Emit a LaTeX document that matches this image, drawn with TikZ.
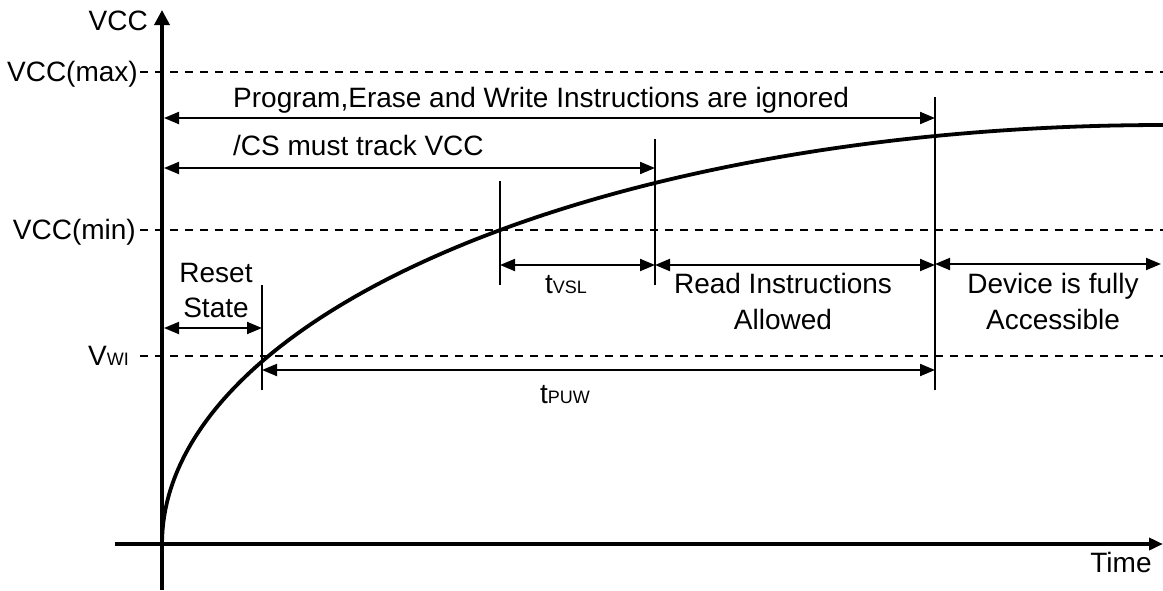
\documentclass[tikz,border=0pt]{standalone}
\usepackage{fontspec}
\setmainfont{Liberation Sans}
\usetikzlibrary{arrows.meta}
\begin{document}
\begin{tikzpicture}[x=1pt,y=-1pt,
  every node/.style={font=\fontsize{28}{33}\selectfont, inner sep=0pt},
  axis/.style={line width=3.5pt},
  curveline/.style={line width=3.8pt, line join=round},
  guide/.style={line width=2pt, dash pattern=on 8pt off 7pt},
  tickline/.style={line width=2pt},
  dimboth/.style={line width=2pt, {Triangle[length=15pt,width=12pt]}-{Triangle[length=15pt,width=12pt]}},
]
\newcommand{\sm}[1]{{\fontsize{18}{20}\selectfont #1}}
\useasboundingbox (0,0) rectangle (1163,590);

% axes
\coordinate (yb) at (162,590); \coordinate (yt) at (162,10);
\coordinate (xl) at (115,544); \coordinate (xr) at (1163,544);
\draw[axis, -{Triangle[length=15pt,width=15pt]}] (yb) -- (yt);
\draw[axis, -{Triangle[length=14pt,width=12pt]}] (xl) -- (xr);

% level labels and dashed levels
\node[anchor=east] (vcc) at (148,21) {VCC};
\node[anchor=base east] (vmax) at (138,81.5) {VCC(max)};
\node[anchor=base east] (vmin) at (136,239.5) {VCC(min)};
\node[anchor=base east] (vwi) at (129,365) {V\sm{WI}};
\coordinate (dmax1) at (140,72);  \coordinate (dmax2) at (1163,72);
\coordinate (dmin1) at (140,230); \coordinate (dmin2) at (1163,230);
\coordinate (dwi1) at (140,356);  \coordinate (dwi2) at (1163,356);
\draw[guide] (dmax1) -- (dmax2);
\draw[guide] (dmin1) -- (dmin2);
\draw[guide] (dwi1) -- (dwi2);

% curve: quarter ellipse from the origin to the top right
\draw[curveline] plot[domain=0:90, samples=240, smooth, variable=\t]
  ({1163-1001*cos(\t)}, {544-419*sin(\t)});

% vertical tick lines
\coordinate (v1a) at (262,285); \coordinate (v1b) at (262,390);
\coordinate (v2a) at (500,181); \coordinate (v2b) at (500,285);
\coordinate (v3a) at (655,139); \coordinate (v3b) at (655,285);
\coordinate (v4a) at (935,97);  \coordinate (v4b) at (935,390);
\draw[tickline] (v1a) -- (v1b);
\draw[tickline] (v2a) -- (v2b);
\draw[tickline] (v3a) -- (v3b);
\draw[tickline] (v4a) -- (v4b);

% dimension arrows
\coordinate (p1) at (164,118); \coordinate (p2) at (935,118);
\coordinate (c1) at (164,168); \coordinate (c2) at (655,168);
\coordinate (r1) at (164,328); \coordinate (r2) at (262,328);
\coordinate (s1) at (500,265); \coordinate (s2) at (655,265);
\coordinate (ra1) at (655,265); \coordinate (ra2) at (935,265);
\coordinate (d1) at (935,264); \coordinate (d2) at (1161,264);
\coordinate (w1) at (262,370); \coordinate (w2) at (935,370);
\draw[dimboth] (p1) -- (p2);
\draw[dimboth] (c1) -- (c2);
\draw[dimboth] (r1) -- (r2);
\draw[dimboth] (s1) -- (s2);
\draw[dimboth] (ra1) -- (ra2);
\draw[dimboth] (d1) -- (d2);
\draw[dimboth] (w1) -- (w2);

% texts
\node[anchor=base west] (prog) at (233,107) {Program,Erase and Write Instructions are ignored};
\node[anchor=base west] (cs) at (233,155) {/CS must track VCC};
\node[anchor=base] (reset) at (216,282) {Reset};
\node[anchor=base] (state) at (216,317) {State};
\node[anchor=base] (tvsl) at (566,293) {t\sm{VSL}};
\node[anchor=base] (read1) at (783,293) {Read Instructions};
\node[anchor=base] (read2) at (783,329) {Allowed};
\node[anchor=base] (dev1) at (1053,293) {Device is fully};
\node[anchor=base] (dev2) at (1053,329) {Accessible};
\node[anchor=base] (tpuw) at (565,403) {t\sm{PUW}};
\node[anchor=base] (time) at (1121,572) {Time};
\end{tikzpicture}
\end{document}
